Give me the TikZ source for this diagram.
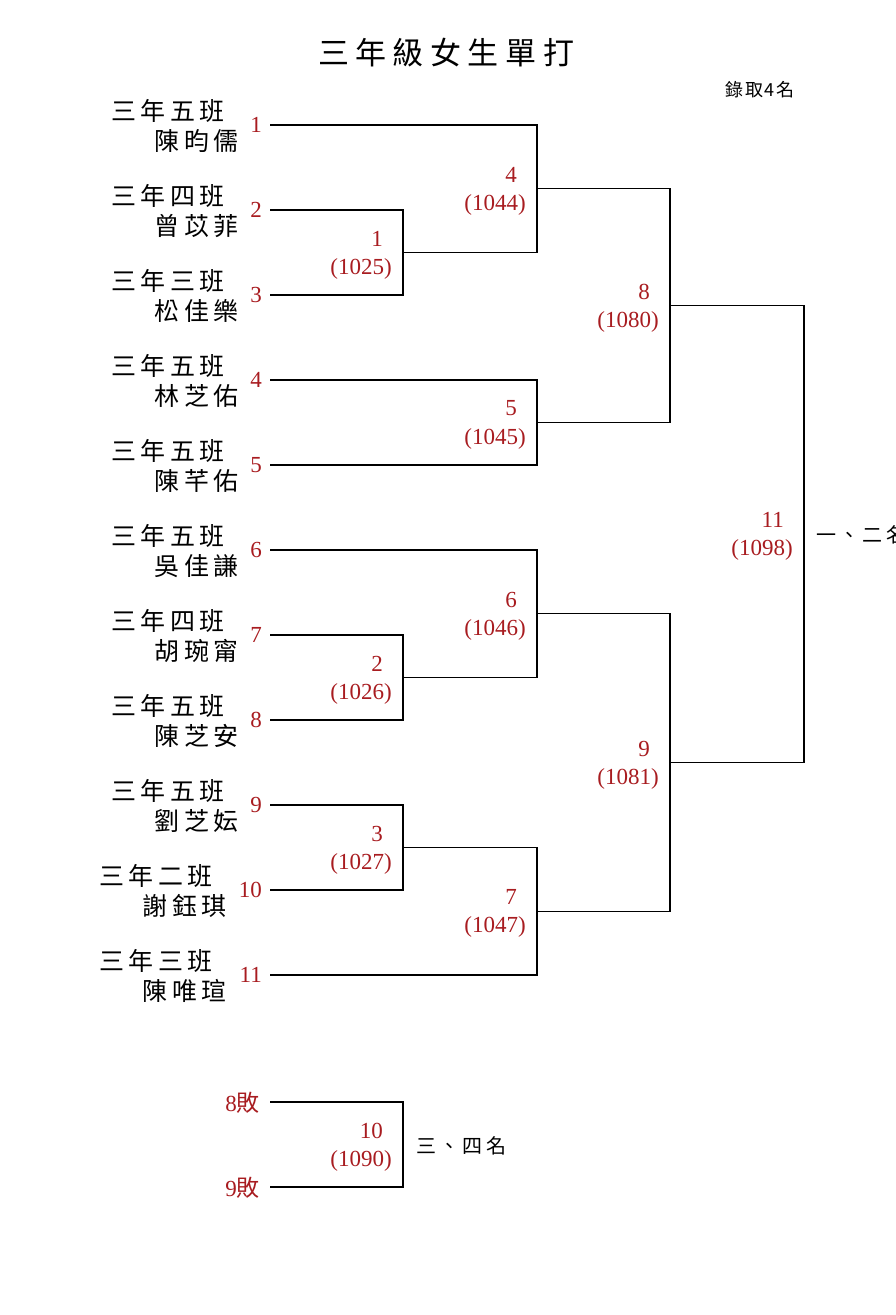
\documentclass[tikz,border=0pt]{standalone}
\usepackage{fontspec}
\usetikzlibrary{calc}
\setmainfont{Liberation Serif}
\newfontfamily\cjk{Noto Sans CJK TC}
\definecolor{dred}{RGB}{168,28,32}
\newdimen\spk
\def\spaced#1{\spacedi#1\relax}
\def\spacedi#1{\ifx#1\relax\else#1\expandafter\spacedii\fi}
\def\spacedii#1{\ifx#1\relax\else\kern\spk #1\expandafter\spacedii\fi}
\newcommand\mkmatch[4]{%
  \coordinate (#1t) at (#2,#3);
  \coordinate (#1b) at (#2,#4);
  \coordinate (#1o) at ($(#1t)!0.5!(#1b)$);}
\begin{document}
\begin{tikzpicture}[x=1pt,y=-1pt,
  bline/.style={line width=1.1pt, line join=miter},
  num/.style={text=dred, font=\fontsize{23}{23}\selectfont, inner sep=0pt},
  cls/.style={font=\cjk\fontsize{25}{25}\selectfont, inner sep=0pt, anchor=east},
  place/.style={font=\cjk\fontsize{20}{20}\selectfont, inner sep=0pt, anchor=west},
  mnum/.style={num, anchor=east, xshift=-20pt, yshift=14pt},
  mcode/.style={num, anchor=east, xshift=-11pt, yshift=-16pt}]
\useasboundingbox (0,0) rectangle (895,1315);

% title and note
\node[font=\cjk\fontsize{31}{31}\selectfont, inner sep=0pt] (title) at (446,53) {\spk=6.5pt\spaced{三年級女生單打}};
\node[font=\cjk\fontsize{18}{18}\selectfont, inner sep=0pt] (note) at (760,90) {\spk=1.5pt\spaced{錄取4名}};

% players
\foreach \i/\cl/\nm in {1/三年五班/陳昀儒, 2/三年四班/曾苡菲, 3/三年三班/松佳樂, 4/三年五班/林芝佑, 5/三年五班/陳芊佑, 6/三年五班/吳佳謙, 7/三年四班/胡琬甯, 8/三年五班/陳芝安, 9/三年五班/劉芝妘, 10/三年二班/謝鈺琪, 11/三年三班/陳唯瑄}{
  \pgfmathsetmacro\yy{125+85*(\i-1)}
  \pgfmathsetmacro\dx{\i>9?12:0}
  \node[num, anchor=east] (n\i) at (262,\yy) {\i};
  \node[cls] (c\i) at (225-\dx,\yy-14) {\spk=4.5pt\expandafter\spaced\expandafter{\cl}};
  \node[cls] (nm\i) at (239-\dx,\yy+16) {\spk=4.5pt\expandafter\spaced\expandafter{\nm}};
  \coordinate (P\i) at (270,\yy);
}

% matches
\mkmatch{m1}{403}{210}{295}
\mkmatch{m2}{403}{635}{720}
\mkmatch{m3}{403}{805}{890}
\mkmatch{m4}{537}{125}{252.5}
\mkmatch{m5}{537}{380}{465}
\mkmatch{m6}{537}{550}{677.5}
\mkmatch{m7}{537}{847.5}{975}
\mkmatch{m8}{670}{188.75}{422.5}
\mkmatch{m9}{670}{613.75}{911.25}
\mkmatch{m11}{804}{305.625}{762.5}
\mkmatch{m10}{403}{1102}{1187}

\draw[bline] (P2) -- (m1t) -- (m1b) -- (P3);
\draw[bline] (P7) -- (m2t) -- (m2b) -- (P8);
\draw[bline] (P9) -- (m3t) -- (m3b) -- (P10);
\draw[bline] (P1) -- (m4t) -- (m4b) -- (m1o);
\draw[bline] (P4) -- (m5t) -- (m5b) -- (P5);
\draw[bline] (P6) -- (m6t) -- (m6b) -- (m2o);
\draw[bline] (m3o) -- (m7t) -- (m7b) -- (P11);
\draw[bline] (m4o) -- (m8t) -- (m8b) -- (m5o);
\draw[bline] (m6o) -- (m9t) -- (m9b) -- (m7o);
\draw[bline] (m8o) -- (m11t) -- (m11b) -- (m9o);

% match labels
\foreach \m/\a/\b in {m1/1/1025, m2/2/1026, m3/3/1027, m4/4/1044, m5/5/1045, m6/6/1046, m7/7/1047, m8/8/1080, m9/9/1081, m11/11/1098, m10/10/1090}{
  \node[mnum] (\m n) at (\m o) {\a};
  \node[mcode] (\m c) at (\m o) {(\b)};
}

% 3rd/4th place
\node[num, anchor=east] (l8) at (260,1103) {8{\cjk 敗}};
\node[num, anchor=east] (l9) at (260,1188) {9{\cjk 敗}};
\coordinate (L8) at (270,1102);
\coordinate (L9) at (270,1187);
\draw[bline] (L8) -- (m10t) -- (m10b) -- (L9);

\node[place] (p34) at (416,1146) {\spk=3.3pt\spaced{三、四名}};
\node[place] (p12) at (816,535) {\spk=3.3pt\spaced{一、二名}};
\end{tikzpicture}
\end{document}
